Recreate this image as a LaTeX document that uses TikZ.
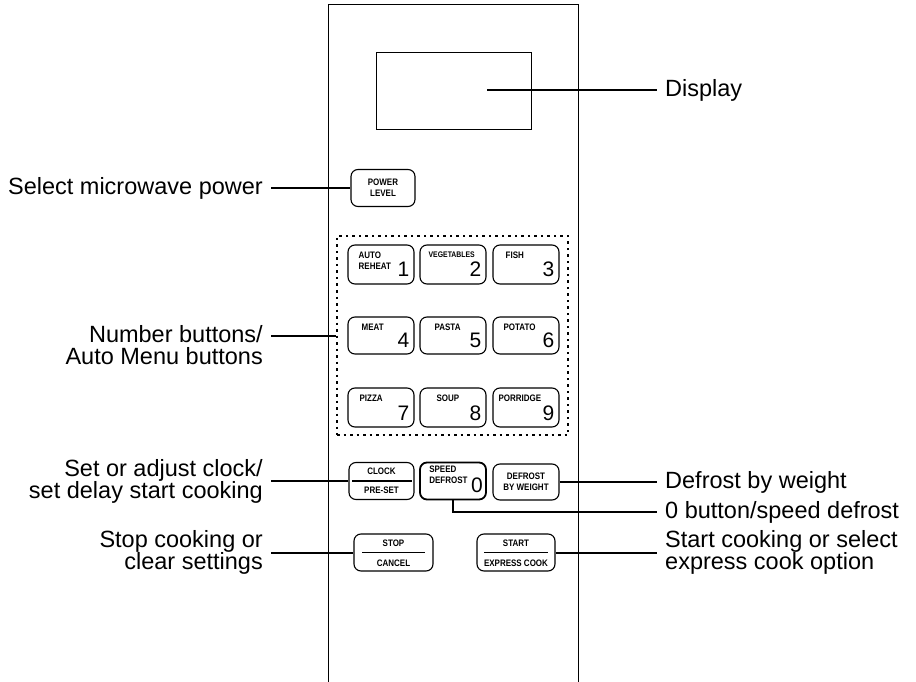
\documentclass[tikz,border=0pt]{standalone}
\usepackage{fontspec}
\setmainfont{Liberation Sans}
\newfontfamily\btnfont[FakeStretch=0.85]{Liberation Sans}
\usepackage{xcolor}
\usetikzlibrary{positioning}

\begin{document}
\begin{tikzpicture}[
  x=1pt, y=-1pt,
  btn/.style={draw, rounded corners=7pt, line width=1.1pt, minimum width=#1,
              minimum height=37pt, inner sep=0pt},
  btn/.default=66pt,
  small/.style={font=\btnfont\fontsize{9.4}{10.8}\selectfont\bfseries, inner sep=0pt, align=center},
  digit/.style={font=\fontsize{21}{21}\selectfont, inner sep=0pt},
  lbl/.style={font=\fontsize{23.5}{22}\selectfont, inner xsep=8pt, inner ysep=0pt},
  lead/.style={line width=2pt},
  keybox/.style={draw, line width=1.8pt, dash pattern=on 2.5pt off 4pt,
                 minimum width=231pt, minimum height=199pt, inner sep=0pt}
]
  \useasboundingbox (0,0) rectangle (916,682);

  % Panel
  \draw[line width=1pt] (328,682) -- (328,5) -- (578,5) -- (578,682);
  \node[draw, line width=1pt, minimum width=155pt, minimum height=77pt, inner sep=0pt] (disp) at (453.5,91.5) {};
  \coordinate (dispend) at (487,90);

  % Nodes
  \node[btn=64pt] (power) at (383,188) {};
  \node[small] at (power.center) {POWER\\LEVEL};

  \node[keybox] (keys) at (452.5,335.5) {};

  \node[btn, minimum height=39pt] (k1) at (381,264.5) {};
  \node[small, align=left, anchor=north west] at ([shift={(11,7)}]k1.north west) {AUTO\\REHEAT};
  \node[digit, anchor=south east] at ([shift={(-5,-8)}]k1.south east) {1};
  \node[btn, minimum height=39pt] (k2) at (453,264.5) {};
  \node[small, anchor=north west, font=\btnfont\fontsize{8.1}{9}\selectfont\bfseries] at ([shift={(9,7)}]k2.north west) {VEGETABLES};
  \node[digit, anchor=south east] at ([shift={(-5,-8)}]k2.south east) {2};
  \node[btn, minimum height=39pt] (k3) at (526,264.5) {};
  \node[small, anchor=north west] at ([shift={(13,7)}]k3.north west) {FISH};
  \node[digit, anchor=south east] at ([shift={(-5,-8)}]k3.south east) {3};

  \node[btn] (k4) at (381,335.5) {};
  \node[small, anchor=north west] at ([shift={(14,7)}]k4.north west) {MEAT};
  \node[digit, anchor=south east] at ([shift={(-5,-7)}]k4.south east) {4};
  \node[btn] (k5) at (453,335.5) {};
  \node[small, anchor=north west] at ([shift={(15,7)}]k5.north west) {PASTA};
  \node[digit, anchor=south east] at ([shift={(-5,-7)}]k5.south east) {5};
  \node[btn] (k6) at (526,335.5) {};
  \node[small, anchor=north west] at ([shift={(11,7)}]k6.north west) {POTATO};
  \node[digit, anchor=south east] at ([shift={(-5,-7)}]k6.south east) {6};

  \node[btn, minimum height=39pt] (k7) at (381,407.5) {};
  \node[small, anchor=north west] at ([shift={(12,7)}]k7.north west) {PIZZA};
  \node[digit, anchor=south east] at ([shift={(-5,-7)}]k7.south east) {7};
  \node[btn, minimum height=39pt] (k8) at (453,407.5) {};
  \node[small, anchor=north west] at ([shift={(17,7)}]k8.north west) {SOUP};
  \node[digit, anchor=south east] at ([shift={(-5,-7)}]k8.south east) {8};
  \node[btn, minimum height=39pt] (k9) at (526,407.5) {};
  \node[small, anchor=north west] at ([shift={(6,7)}]k9.north west) {PORRIDGE};
  \node[digit, anchor=south east] at ([shift={(-5,-7)}]k9.south east) {9};

  \node[btn=65pt] (clock) at (381.5,481) {};
  \node[small] at (381.5,471) {CLOCK};
  \node[small] at (381.5,490.5) {PRE-SET};
  \draw[line width=1.1pt] ([xshift=4pt]clock.west) -- ([xshift=-3pt]clock.east);

  \node[btn, line width=1.8pt] (speed) at (453,481) {};
  \node[small, align=left, anchor=north west] at ([shift={(10,4)}]speed.north west) {SPEED\\DEFROST};
  \node[digit, anchor=east] at ([shift={(-4,4)}]speed.east) {0};

  \node[btn, minimum height=36pt] (dbw) at (526,482) {};
  \node[small] at (dbw.center) {DEFROST\\BY WEIGHT};

  \node[btn=79pt] (stop) at (393.5,552.5) {};
  \node[small] at (393.5,543) {STOP};
  \node[small] at (393.5,563) {CANCEL};
  \draw[line width=1.1pt] ([xshift=9pt]stop.west) -- ([xshift=-9pt]stop.east);

  \node[btn=78pt] (start) at (516,552.5) {};
  \node[small] at (516,543) {START};
  \node[small] at (516,563) {EXPRESS COOK};
  \draw[line width=1.1pt] ([xshift=8pt]start.west) -- ([xshift=-8pt]start.east);

  % Labels
  \node[lbl, anchor=east] (powerlbl) at (271,188) {Select microwave power};
  \node[lbl, anchor=east, align=right] (numlbl) at (271,345) {Number buttons/\\Auto Menu buttons};
  \node[lbl, anchor=east, align=right] (clocklbl) at (271,481) {Set or adjust clock/\\set delay start cooking};
  \node[lbl, anchor=east, align=right] (stoplbl) at (271,552.5) {Stop cooking or\\clear settings};
  \node[lbl, anchor=west] (displbl) at (657,90) {Display};
  \node[lbl, anchor=west] (dbwlbl) at (657,482) {Defrost by weight};
  \node[lbl, anchor=west] (zerolbl) at (657,512) {0 button/speed defrost};
  \node[lbl, anchor=west, align=left] (startlbl) at (657,552.5) {Start cooking or select\\express cook option};

  % Leaders
  \draw[lead] (dispend) -- (displbl.west);
  \draw[lead] (powerlbl.east) -- (power.west);
  \draw[lead] (keys.west -| numlbl.east) -- (keys.west);
  \draw[lead] (clocklbl.east) -- (clock.west);
  \draw[lead] (stoplbl.east) -- (stop.west);
  \draw[lead] (dbw.east) -- (dbwlbl.west);
  \draw[lead] (speed.south) |- (zerolbl.west);
  \draw[lead] (start.east) -- (startlbl.west);
\end{tikzpicture}
\end{document}
